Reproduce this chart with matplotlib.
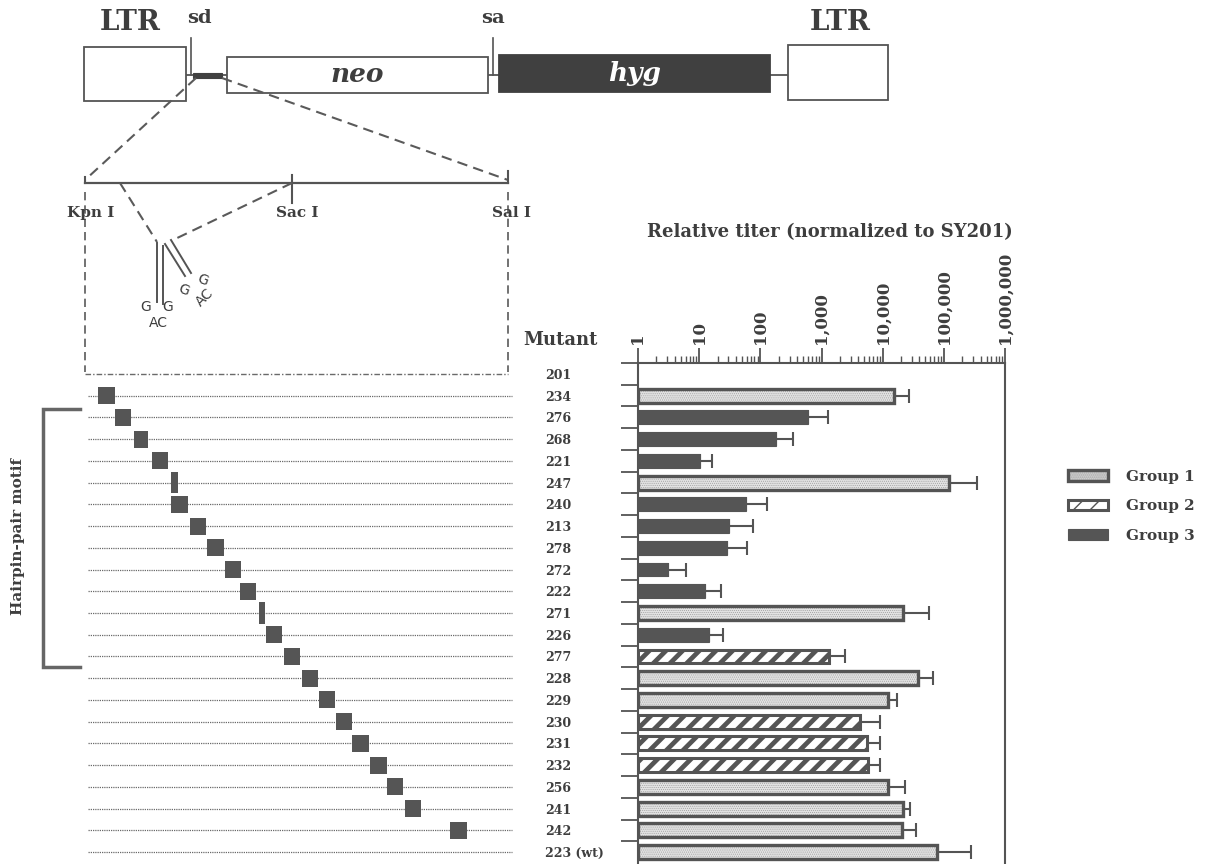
import numpy as np
import matplotlib
matplotlib.use('Agg')
import matplotlib.pyplot as plt
from matplotlib.patches import Rectangle
from matplotlib.legend_handler import HandlerTuple
from matplotlib.ticker import FixedLocator, LogLocator, FuncFormatter, NullFormatter

plt.rcParams['font.family'] = ['DejaVu Serif']

# --- veri ---
mutants = ['201', '234', '276', '268', '221', '247', '240', '213', '278', '272', '222',
           '271', '226', '277', '228', '229', '230', '231', '232', '256', '241', '242',
           '223 (wt)']
# relative titer (normalized to SY201), bar end and error-bar end
titer = [1, 15200, 600, 180, 10.3, 120000, 58, 31, 29, 3.1, 12.4,
         21500, 14.5, 1330, 38000, 12400, 4300, 5500, 5800, 12000, 21500, 20500,
         76000]
titer_hi = [1, 27000, 1260, 340, 16, 350000, 128, 75, 60, 6, 23,
            57000, 24.5, 2400, 66000, 17000, 9000, 9000, 9000, 23000, 28000, 35500,
            275000]
group = [0, 1, 3, 3, 3, 1, 3, 3, 3, 3, 3,
         1, 3, 2, 1, 1, 2, 2, 2, 1, 1, 1,
         1]
# substituted block along Kpn I .. Sal I fragment (fraction of fragment)
block_start = [None, 0.031, 0.071, 0.116, 0.158, 0.203, 0.203, 0.248, 0.288, 0.331, 0.366,
               0.411, 0.428, 0.470, 0.513, 0.553, 0.593, 0.631, 0.674, 0.714, 0.757, 0.863,
               None]
block_end = [None, 0.071, 0.109, 0.149, 0.196, 0.220, 0.243, 0.286, 0.329, 0.369, 0.404,
             0.426, 0.466, 0.508, 0.551, 0.591, 0.631, 0.671, 0.714, 0.752, 0.794, 0.903,
             None]
axis_ticks = [1, 10, 100, 1000, 10000, 100000, 1000000]
group_names = ['Group 1', 'Group 2', 'Group 3']

DARK = '#545454'
TXT = '#3e3e3e'
W, H = 1210, 864

fig = plt.figure(figsize=(W / 100, H / 100), dpi=100)

# ---- schematic overlay in pixel coords ----
ov = fig.add_axes([0, 0, 1, 1])
ov.set_xlim(0, W)
ov.set_ylim(H, 0)
ov.axis('off')

# provirus backbone
ov.plot([186, 788], [75, 75], color=DARK, lw=1.3, zorder=1)
ov.add_patch(Rectangle((84, 47), 102, 54, fc='white', ec=DARK, lw=1.3, zorder=2))
ov.add_patch(Rectangle((227, 57), 261, 36, fc='white', ec=DARK, lw=1.3, zorder=2))
ov.add_patch(Rectangle((499, 55), 271, 37, fc='#404040', ec='#404040', lw=1.3, zorder=2))
ov.add_patch(Rectangle((788, 45), 100, 55, fc='white', ec=DARK, lw=1.3, zorder=2))
ov.add_patch(Rectangle((193, 72.5), 29, 5.5, fc='#404040', ec='#404040', lw=0.8, zorder=2))
ov.plot([191, 191], [38, 75], color=DARK, lw=1.2)
ov.plot([493, 493], [38, 75], color=DARK, lw=1.2)

ov.text(130, 22, 'LTR', ha='center', va='center', fontsize=20, fontweight='bold', color=TXT)
ov.text(840, 22, 'LTR', ha='center', va='center', fontsize=20, fontweight='bold', color=TXT)
ov.text(199, 18, 'sd', ha='center', va='center', fontsize=14, fontweight='bold', color=TXT)
ov.text(493, 18, 'sa', ha='center', va='center', fontsize=14, fontweight='bold', color=TXT)
ov.text(357, 74, 'neo', ha='center', va='center', fontsize=19, style='italic',
        fontweight='bold', color=TXT, zorder=3)
ov.text(635, 73, 'hyg', ha='center', va='center', fontsize=19, style='italic',
        fontweight='bold', color='white', zorder=3)

# zoom-in dashes
dash = dict(color='#5a5a5a', lw=1.5, ls=(0, (5, 3)))
ov.plot([196, 85], [78, 180], **dash)
ov.plot([222, 508], [78, 180], **dash)

# fragment Kpn I - Sal I
ov.plot([85, 508], [183, 183], color=DARK, lw=1.6)
ov.plot([85, 85], [177, 183], color=DARK, lw=1.5)
ov.plot([292, 292], [175, 203], color=DARK, lw=1.5)
ov.plot([508, 508], [171, 183], color=DARK, lw=1.5)
ov.text(91, 213, 'Kpn I', ha='center', va='center', fontsize=11, fontweight='bold', color=TXT)
ov.text(297, 213, 'Sac I', ha='center', va='center', fontsize=11, fontweight='bold', color=TXT)
ov.text(512, 213, 'Sal I', ha='center', va='center', fontsize=11, fontweight='bold', color=TXT)
ov.plot([85, 85], [192, 372], color='#5a5a5a', lw=1.2, ls=(0, (5, 3)))
ov.plot([508, 508], [192, 372], color='#5a5a5a', lw=1.2, ls=(0, (5, 3)))

# hairpin pair
ov.plot([120, 157], [183, 242], **dash)
ov.plot([292, 173], [183, 240], **dash)
ov.plot([157, 157], [243, 302], color=DARK, lw=1.4)
ov.plot([163, 163], [246, 304], color=DARK, lw=1.4)
ov.plot([165, 185], [244, 276], color=DARK, lw=1.4)
ov.plot([171, 191], [240, 273], color=DARK, lw=1.4)
hp = dict(fontsize=10, color=TXT, family='DejaVu Sans', ha='center', va='center')
ov.text(146, 307, 'G', **hp)
ov.text(168, 307, 'G', **hp)
ov.text(158, 323, 'AC', **hp)
ov.text(184, 290, 'G', rotation=-20, **hp)
ov.text(203, 280, 'G', rotation=-20, **hp)
ov.text(205, 297, 'AC', rotation=45, **hp)

# bracket + label
ov.plot([80, 43, 43, 80], [409, 409, 667, 667], color='#666666', lw=2.5, solid_joinstyle='miter')
ov.text(18, 536, 'Hairpin-pair motif', rotation=90, ha='center', va='center',
        fontsize=11, fontweight='bold', color=TXT)

ov.text(560, 340, 'Mutant', ha='center', va='center', fontsize=13, fontweight='bold', color=TXT)
ov.text(830, 232, 'Relative titer (normalized to SY201)', ha='center', va='center',
        fontsize=13, fontweight='bold', color=TXT)

rows = np.arange(len(mutants))
y_top, y_bot = 363, 863
bottom = 1 - y_bot / H
height = (y_bot - y_top) / H

# ---- mutant map ----
ax_map = fig.add_axes([85 / W, bottom, 423 / W, height])
ax_map.set_xlim(0, 1)
ax_map.set_ylim(len(mutants) - 0.5, -0.5)
ax_map.axis('off')
ax_map.hlines(rows[:1], 0, 1, color='#6a6a6a', lw=1.0, ls=(0, (4, 1.5, 1, 1.5)), clip_on=False)
ax_map.hlines(rows[1:], 0.008, 1.01, color='#6a6a6a', lw=0.9, ls=(0, (1, 0.8)), clip_on=False)
for i in rows:
    if block_start[i] is None:
        continue
    w = block_end[i] - block_start[i]
    h = 1.0 if w < 0.025 else 0.78
    ax_map.barh(i, w, left=block_start[i], height=h, color='#555555', clip_on=False, zorder=3)

# ---- titer bars ----
ax = fig.add_axes([638 / W, bottom, 367 / W, height])
ax.set_xscale('log')
ax.set_xlim(1, 1e6)
ax.set_ylim(len(mutants) - 0.5, -0.5)

bar_h = 0.64
for i in rows:
    if group[i] == 0:
        continue
    ax.errorbar(titer[i], i, xerr=[[0], [titer_hi[i] - titer[i]]], fmt='none',
                ecolor=DARK, elinewidth=1.5, capsize=5, capthick=1.5, zorder=1)

handles = {}
for i in rows:
    g = group[i]
    if g == 0:
        continue
    kw = dict(left=1, height=bar_h, zorder=2)
    wdt = titer[i] - 1
    if g == 1:
        with plt.rc_context({'hatch.linewidth': 0.4}):
            b1 = ax.barh(i, wdt, facecolor='#e2e2e2', edgecolor='#9a9a9a', hatch='........',
                         linewidth=0, **kw)
        b2 = ax.barh(i, wdt, facecolor='none', edgecolor=DARK, linewidth=2.4, **kw)
        for p in b1:
            if hasattr(p, 'set_hatch_linewidth'):
                p.set_hatch_linewidth(0.4)
        handles[1] = (b1, b2)
    elif g == 2:
        with plt.rc_context({'hatch.linewidth': 3.4}):
            b = ax.barh(i, wdt, facecolor='white', edgecolor=DARK, hatch='//',
                        linewidth=2.2, **kw)
        for p in b:
            if hasattr(p, 'set_hatch_linewidth'):
                p.set_hatch_linewidth(3.4)
        handles[2] = b
    else:
        b = ax.barh(i, wdt, facecolor='#555555', edgecolor='#555555', linewidth=0.8, **kw)
        handles[3] = b

ax.xaxis.tick_top()
ax.xaxis.set_major_locator(FixedLocator(axis_ticks))
ax.xaxis.set_major_formatter(FuncFormatter(lambda v, p: f'{int(round(v)):,}'))
ax.xaxis.set_minor_locator(LogLocator(base=10, subs=np.arange(2, 10)))
ax.xaxis.set_minor_formatter(NullFormatter())
ax.tick_params(axis='x', which='major', direction='out', length=11, width=1.3,
               color=DARK, pad=3, labelsize=12, labelrotation=90, labelcolor=TXT)
ax.tick_params(axis='x', which='minor', direction='out', length=5, width=1.0, color=DARK)
for lab in ax.get_xticklabels():
    lab.set_fontweight('bold')

ax.set_yticks(np.arange(-0.5, len(mutants) - 1))
ax.set_yticklabels([])
ax.set_yticks(rows, labels=mutants, minor=True)
ax.tick_params(axis='y', which='major', direction='out', length=12, width=1.3, color=DARK)
ax.tick_params(axis='y', which='minor', length=0, pad=67, labelsize=9, labelcolor=TXT)
for lab in ax.get_yticklabels(minor=True):
    lab.set_fontweight('bold')
    lab.set_horizontalalignment('left')

for s in ['top', 'left', 'right']:
    ax.spines[s].set_linewidth(1.5)
    ax.spines[s].set_color(DARK)
ax.spines['bottom'].set_visible(False)

leg = ax.legend([handles[1], handles[2], handles[3]], group_names,
                handler_map={tuple: HandlerTuple(ndivide=1)},
                loc='upper left', bbox_to_anchor=(1068 / W, 1 - 470 / H),
                bbox_transform=fig.transFigure, frameon=False, borderpad=0,
                borderaxespad=0, fontsize=11, handlelength=2.6, handleheight=0.7,
                labelspacing=1.0, handletextpad=1.2)
for t in leg.get_texts():
    t.set_fontweight('bold')
    t.set_color(TXT)

fig.savefig('out.png', dpi=100)
